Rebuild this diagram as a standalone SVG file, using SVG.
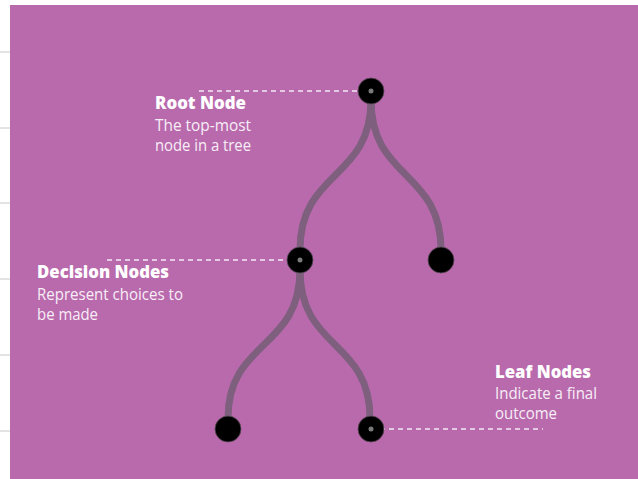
<svg xmlns="http://www.w3.org/2000/svg" width="638" height="479" viewBox="0 0 638 479">
  <style>
    .title { font-family: "Open Sans", "Liberation Sans", sans-serif; font-weight: 800; font-size: 18px; fill: #ffffff; }
    .desc { font-family: "Open Sans", "Liberation Sans", sans-serif; font-weight: 400; font-size: 16px; fill: #f7eef6; }
    .branch { fill: none; stroke: #7e5f7d; stroke-width: 7; stroke-linecap: round; }
    .lead { stroke: #f4e8f2; stroke-width: 1.3; stroke-dasharray: 5 4; fill: none; }
    .node { fill: #000000; stroke: #5a4a58; stroke-width: 0.8; }
    .dot { fill: #7a7a7a; }
    .rule { stroke: #c8c8c8; stroke-width: 1; }
  </style>
  <rect x="0" y="0" width="638" height="479" fill="#ffffff"/>
  <g id="margin-rules">
    <line class="rule" x1="0" y1="52" x2="10" y2="52"/>
    <line class="rule" x1="0" y1="128" x2="10" y2="128"/>
    <line class="rule" x1="0" y1="203" x2="10" y2="203"/>
    <line class="rule" x1="0" y1="279" x2="10" y2="279"/>
    <line class="rule" x1="0" y1="355" x2="10" y2="355"/>
    <line class="rule" x1="0" y1="431" x2="10" y2="431"/>
  </g>
  <rect x="10" y="5" width="628" height="474" fill="#b96aad"/>
  <g id="connectors">
    <path class="branch" d="M371,100 C371,180 300,170 300,250"/>
    <path class="branch" d="M371,100 C371,180 441,170 441,250"/>
    <path class="branch" d="M300,270 C300,350 228,340 228,418"/>
    <path class="branch" d="M300,270 C300,350 370,340 370,418"/>
    <line class="lead" x1="199" y1="91" x2="370" y2="91"/>
    <line class="lead" x1="107" y1="260" x2="299" y2="260"/>
    <line class="lead" x1="371" y1="429" x2="543" y2="429"/>
  </g>
  <g id="root-node">
    <circle class="node" cx="371" cy="91" r="13"/>
    <circle class="dot" cx="371" cy="91" r="2.5"/>
  </g>
  <g id="decision-node">
    <circle class="node" cx="300" cy="260" r="13"/>
    <circle class="dot" cx="300" cy="260" r="2.5"/>
  </g>
  <g id="right-node">
    <circle class="node" cx="441" cy="260" r="13"/>
  </g>
  <g id="leaf-left">
    <circle class="node" cx="228" cy="429" r="13"/>
  </g>
  <g id="leaf-right">
    <circle class="node" cx="371" cy="429" r="13"/>
    <circle class="dot" cx="371" cy="429" r="2.5"/>
  </g>
  <g id="label-root">
    <text class="title" x="155" y="109" textLength="91" lengthAdjust="spacingAndGlyphs">Root Node</text>
    <text class="desc" x="155" y="131" textLength="96" lengthAdjust="spacingAndGlyphs">The top-most</text>
    <text class="desc" x="155" y="151" textLength="96" lengthAdjust="spacingAndGlyphs">node in a tree</text>
  </g>
  <g id="label-decision">
    <text class="title" x="37" y="278" textLength="132" lengthAdjust="spacingAndGlyphs">Decision Nodes</text>
    <text class="desc" x="37" y="300" textLength="146" lengthAdjust="spacingAndGlyphs">Represent choices to</text>
    <text class="desc" x="37" y="320" textLength="61" lengthAdjust="spacingAndGlyphs">be made</text>
  </g>
  <g id="label-leaf">
    <text class="title" x="495" y="378" textLength="96" lengthAdjust="spacingAndGlyphs">Leaf Nodes</text>
    <text class="desc" x="495" y="399" textLength="102" lengthAdjust="spacingAndGlyphs">Indicate a final</text>
    <text class="desc" x="495" y="419" textLength="62" lengthAdjust="spacingAndGlyphs">outcome</text>
  </g>
</svg>
